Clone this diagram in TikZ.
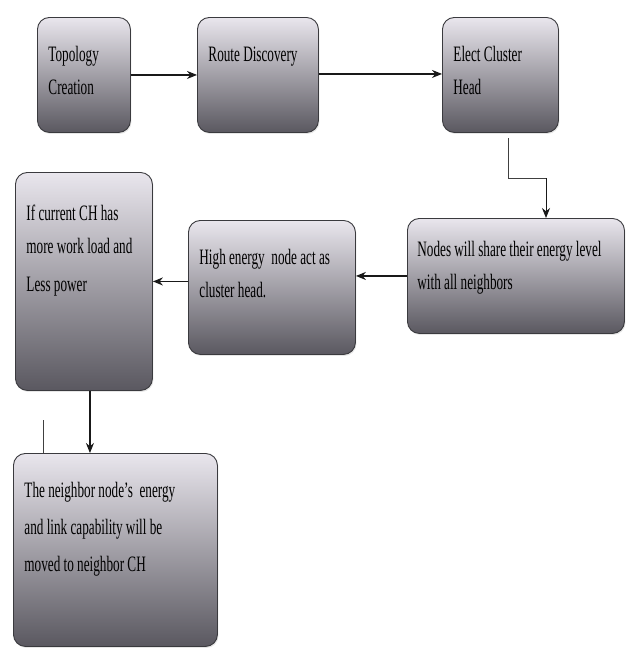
\documentclass[tikz,border=0pt]{standalone}
\usepackage{fontspec}
\setmainfont[FakeStretch=0.6]{Liberation Serif}
\usetikzlibrary{arrows.meta,positioning,shadows}
\definecolor{boxtop}{HTML}{E9E6ED}
\definecolor{boxmid}{HTML}{B7B4BC}
\definecolor{boxbot}{HTML}{5A5860}
\definecolor{boxline}{HTML}{3A3A3E}
\newcommand\boxfont[1]{\fontsize{22}{#1}\selectfont}
\tikzset{
		>={Stealth[length=10pt, width=8pt]},
			flow/.style={draw=boxline, line width=0.9pt, rounded corners=12pt,
				top color=boxtop, middle color=boxmid, bottom color=boxbot, anchor=north west,
				align=flush left, inner xsep=11pt, inner ysep=0pt, text height=44pt,
				font=\boxfont{33},
				execute at begin node={\spaceskip=3.3pt plus 1pt minus 0.5pt\xspaceskip=\spaceskip},
				drop shadow={opacity=0.2, shadow xshift=1pt, shadow yshift=-1.5pt}},
			link/.style={->, line width=1.2pt, draw=black!90},
			wire/.style={line width=1pt, draw=black!75},
		}
\begin{document}
\begin{tikzpicture}[x=1pt, y=-1pt]
				\useasboundingbox (0,0) rectangle (627,648);

				% top row
				\node[flow, text width=71pt,  text depth=71pt] (topo)  at (37,17)  {Topology\\Creation};
				\node[flow, text width=99pt,  text depth=71pt] (route) at (197,17) {Route Discovery};
				\node[flow, text width=94pt,  text depth=71pt] (elect) at (442,17) {Elect Cluster\\Head};

				% middle row
				\node[flow, text width=197pt, text depth=77pt, text height=38pt, inner xsep=10pt] (share) at (407,218) {Nodes will share their energy level\\with all neighbors};
				\node[flow, text width=145pt, text depth=90pt] (high)  at (188,220) {High energy\ \ node act as\\cluster head.};
				\node[flow, text width=115pt, text depth=170pt, text height=48pt] (ifch) at (15,172) {If current CH has\\more work load and\\[5pt]Less power};

				% bottom
				\node[flow, text width=182pt, text depth=149pt, font=\boxfont{37}] (neigh) at (13,453) {The neighbor node's\ \ energy\\and link capability will be\\moved to neighbor CH};

				\coordinate (c1)   at (508,138);
				\coordinate (bend) at (546,178);
				\coordinate (stub) at (43,420);

				\draw[link] (topo.east)  -- (topo.east -| route.west);
				\draw[link] ([yshift=1pt]route.east) -- ([yshift=1pt]route.east -| elect.west);
				\draw[wire] (c1) |- (bend);
				\draw[link, line width=1pt] (bend) -- (bend |- share.north);
				\draw[link] (share.west) -- (share.west -| high.east);
				\draw[link] ([yshift=6pt]high.west) -- ([yshift=6pt]high.west -| ifch.east);
				\draw[link] ([xshift=6pt]ifch.south) -- ([xshift=6pt]ifch.south |- neigh.north);
				\draw[wire] (stub) -- (stub |- neigh.north);

			\end{tikzpicture}
\end{document}
